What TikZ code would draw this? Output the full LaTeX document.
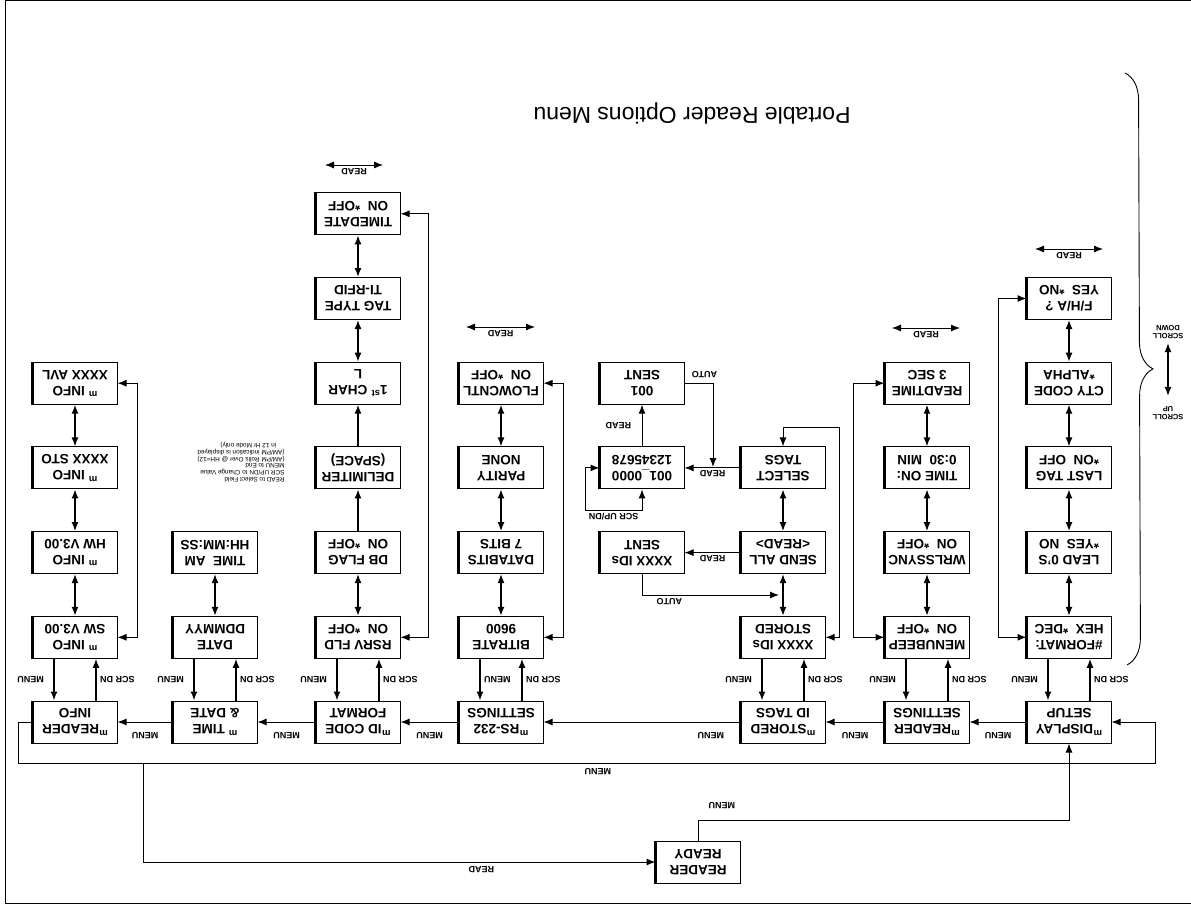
\documentclass[tikz,border=0pt]{standalone}
\usepackage{fontspec}
\setmainfont{Liberation Sans}
\usepackage{tikz}
\usetikzlibrary{arrows.meta}
\usetikzlibrary{decorations.pathreplacing}
\usetikzlibrary{positioning,calc}
\tikzstyle{menubox} = [draw, line width=1pt, minimum width=84pt, minimum height=42pt, inner sep=1pt, align=center, font=\fontsize{13.5}{16}\selectfont\bfseries, append after command={\pgfextra{\draw[line width=2.6pt] (\tikzlastnode.north east) -- (\tikzlastnode.south east);}}]
\tikzstyle{optbox} = [menubox]
\tikzstyle{lbl} = [font=\fontsize{9}{9.5}\selectfont\bfseries, inner sep=1.5pt]
\tikzstyle{scroll_lbl} = [lbl, font=\fontsize{7.5}{7.5}\selectfont\bfseries, align=center]
\tikzstyle{hint_text} = [font=\fontsize{6.4}{6.7}\selectfont, align=left, inner sep=0pt]
\tikzstyle{menu_title} = [font=\fontsize{23}{26}\selectfont]
\tikzstyle{arrow_step} = [->, draw, line width=1.4pt]
\tikzstyle{arrow_both} = [<->, draw, line width=1.4pt]
\tikzstyle{arrow_thin} = [->, draw, line width=1pt]
\tikzstyle{arrow_loop} = [<->, draw, line width=1pt]
\tikzstyle{arrow_read} = [<->, draw, line width=0.8pt]
\begin{document}
\begin{tikzpicture}[x=-1pt, y=1pt, rotate=180, transform shape, -, >={Latex[length=9pt,width=7pt]}, node distance=84.7pt]
      \useasboundingbox (0,0) rectangle (1191,907);
      \draw[line width=1pt] (1191,1) -- (5,1) -- (5,903) -- (1191,903);

      \node[menu_title] (title) at (692,113) {Portable Reader Options Menu};

      % Menu row
      \node[menubox] (ready) at (698,862) {READER\\READY};
      \node[menubox] (disp) at (1069,722) {\textsuperscript{m}DISPLAY\\SETUP};
      \node[menubox] (rset) [right of=disp, node distance=142pt] {\textsuperscript{m}READER\\SETTINGS};
      \node[menubox] (stored) [right of=rset, node distance=144pt] {\textsuperscript{m}STORED\\ID TAGS};
      \node[menubox] (rs) [right of=stored, node distance=282pt] {\textsuperscript{m}RS-232\\SETTINGS};
      \node[menubox] (idcode) [right of=rs, node distance=143pt] {\textsuperscript{m}ID CODE\\FORMAT};
      \node[menubox] (time) [right of=idcode, node distance=143pt] {\textsuperscript{m} TIME\\\& DATE};
      \node[menubox] (info) [right of=time, node distance=140pt] {\textsuperscript{m}READER\\INFO};

      % Display setup
      \node[optbox] (format) [below of=disp] {\#FORMAT:\\HEX\ \ *DEC};
      \node[optbox] (lead) [below of=format] {LEAD 0'S\\*YES\ \ NO};
      \node[optbox] (lasttag) [below of=lead] {LAST TAG\\*ON\ \ OFF};
      \node[optbox] (cty) [below of=lasttag] {CTY CODE\\*ALPHA};
      \node[optbox] (fha) [below of=cty] {F/H/A ?\\YES\ \ *NO};

      % Reader settings
      \node[optbox] (beep) [below of=rset] {MENUBEEP\\ON\ \ *OFF};
      \node[optbox] (sync) [below of=beep] {WRLSSYNC\\ON\ \ *OFF};
      \node[optbox] (timeon) [below of=sync] {TIME ON:\\0:30\ \ MIN};
      \node[optbox] (readtime) [below of=timeon] {READTIME\\3 SEC};

      % Stored tags
      \node[optbox] (idstored) [below of=stored] {XXXX IDs\\STORED};
      \node[optbox] (sendall) [below of=idstored] {SEND ALL\\<READ>};
      \node[optbox] (select) [below of=sendall] {SELECT\\TAGS};
      \node[optbox] (idsent) [right of=sendall, node distance=141pt] {XXXX IDs\\SENT};
      \node[optbox] (code) [below of=idsent] {001\_0000\\12345678};
      \node[optbox] (sent) [below of=code] {001\\SENT};

      % RS-232
      \node[optbox] (bitrate) [below of=rs] {BITRATE\\9600};
      \node[optbox] (databits) [below of=bitrate] {DATABITS\\7 BITS};
      \node[optbox] (parity) [below of=databits] {PARITY\\NONE};
      \node[optbox] (flowcntl) [below of=parity] {FLOWCNTL\\ON\ \ *OFF};

      % ID code format
      \node[optbox] (rsrv) [below of=idcode] {RSRV FLD\\ON\ \ *OFF};
      \node[optbox] (dbflag) [below of=rsrv] {DB FLAG\\ON\ \ *OFF};
      \node[optbox] (delim) [below of=dbflag] {DELIMITER\\(SPACE)};
      \node[optbox] (firstchar) [below of=delim] {1\textsuperscript{st} CHAR\\L};
      \node[optbox] (tagtype) [below of=firstchar] {TAG TYPE\\TI-RFID};
      \node[optbox] (timedate) [below of=tagtype] {TIMEDATE\\ON\ \ *OFF};

      % Time and date
      \node[optbox] (date) [below of=time] {DATE\\DDMMYY};
      \node[optbox] (tam) [below of=date] {TIME\ \ AM\\HH:MM:SS};
      \node[hint_text] (hint) at (241,462) {READ to Select Field\\SCR UP/DN to Change Value\\MENU to End\\(AM/PM Rolls Over @ HH=12)\\(AM/PM indication is displayed\\\hspace*{1.3em}in 12 Hr Mode only)};

      % Reader info
      \node[optbox] (sw) [below of=info] {\textsuperscript{m} INFO\\SW V3.00};
      \node[optbox] (hw) [below of=sw] {\textsuperscript{m} INFO\\HW V3.00};
      \node[optbox] (sto) [below of=hw] {\textsuperscript{m} INFO\\XXXX STO};
      \node[optbox] (avl) [below of=sto] {\textsuperscript{m} INFO\\XXXX AVL};

      % Menu arrows
      \path[arrow_thin] (disp) -- node[lbl, above=8pt] {MENU} (rset);
      \path[arrow_thin] (rset) -- node[lbl, above=8pt] {MENU} (stored);
      \path[arrow_thin] (stored) -- node[lbl, pos=0.15, above=8pt] {MENU} (rs);
      \path[arrow_thin] (rs) -- node[lbl, above=8pt] {MENU} (idcode);
      \path[arrow_thin] (idcode) -- node[lbl, above=8pt] {MENU} (time);
      \path[arrow_thin] (time) -- node[lbl, above=8pt] {MENU} (info);

      % Menu and scroll down arrows
      \path[arrow_step] ($(format.north)+(-21,0)$) -- node[lbl, right=8pt] {MENU} ($(disp.south)+(-21,0)$);
      \path[arrow_step] ($(disp.south)+(21,0)$) -- node[lbl, left=2pt] {SCR DN} ($(format.north)+(21,0)$);
      \path[arrow_step] ($(beep.north)+(-21,0)$) -- node[lbl, right=8pt] {MENU} ($(rset.south)+(-21,0)$);
      \path[arrow_step] ($(rset.south)+(21,0)$) -- node[lbl, left=2pt] {SCR DN} ($(beep.north)+(21,0)$);
      \path[arrow_step] ($(idstored.north)+(-21,0)$) -- node[lbl, right=8pt] {MENU} ($(stored.south)+(-21,0)$);
      \path[arrow_step] ($(stored.south)+(21,0)$) -- node[lbl, left=2pt] {SCR DN} ($(idstored.north)+(21,0)$);
      \path[arrow_step] ($(bitrate.north)+(-21,0)$) -- node[lbl, left=2pt] {MENU} ($(rs.south)+(-21,0)$);
      \path[arrow_step] ($(rs.south)+(21,0)$) -- node[lbl, left=2pt] {SCR DN} ($(bitrate.north)+(21,0)$);
      \path[arrow_step] ($(rsrv.north)+(-21,0)$) -- node[lbl, right=8pt] {MENU} ($(idcode.south)+(-21,0)$);
      \path[arrow_step] ($(idcode.south)+(21,0)$) -- node[lbl, left=2pt] {SCR DN} ($(rsrv.north)+(21,0)$);
      \path[arrow_step] ($(date.north)+(-21,0)$) -- node[lbl, right=8pt] {MENU} ($(time.south)+(-21,0)$);
      \path[arrow_step] ($(time.south)+(21,0)$) -- node[lbl, left=2pt] {SCR DN} ($(date.north)+(21,0)$);
      \path[arrow_step] ($(sw.north)+(-21,0)$) -- node[lbl, right=8pt] {MENU} ($(info.south)+(-21,0)$);
      \path[arrow_step] ($(info.south)+(21,0)$) -- node[lbl, left=2pt] {SCR DN} ($(sw.north)+(21,0)$);

      % Option arrows
      \path[arrow_both] (format) -- (lead);
      \path[arrow_both] (lead) -- (lasttag);
      \path[arrow_both] (lasttag) -- (cty);
      \path[arrow_both] (cty) -- (fha);
      \path[arrow_both] (beep) -- (sync);
      \path[arrow_both] (sync) -- (timeon);
      \path[arrow_both] (timeon) -- (readtime);
      \path[arrow_both] (idstored) -- (sendall);
      \path[arrow_both] (sendall) -- (select);
      \path[arrow_both] (bitrate) -- (databits);
      \path[arrow_both] (databits) -- (parity);
      \path[arrow_both] (parity) -- (flowcntl);
      \path[arrow_both] (rsrv) -- (dbflag);
      \path[arrow_step] (dbflag) -- (delim);
      \path[arrow_step] (delim) -- (firstchar);
      \path[arrow_both] (firstchar) -- (tagtype);
      \path[arrow_both] (tagtype) -- (timedate);
      \path[arrow_both] (date) -- (tam);
      \path[arrow_both] (sw) -- (hw);
      \path[arrow_both] (hw) -- (sto);
      \path[arrow_both] (sto) -- (avl);

      % Wrap arrows
      \coordinate (disp_wrap) at (998,0);
      \coordinate (rset_wrap) at (853,0);
      \coordinate (stored_wrap) at (839,427);
      \coordinate (rs_wrap) at (563,0);
      \coordinate (id_wrap) at (428,0);
      \coordinate (info_wrap) at (137,0);
      \path[arrow_loop] (format.east) -- (format.east -| disp_wrap) |- (fha.east);
      \path[arrow_loop] (beep.east) -- (beep.east -| rset_wrap) |- (readtime.east);
      \path[arrow_loop] (idstored.west) -| (stored_wrap) -| (select.south);
      \path[arrow_loop] (bitrate.west) -- (bitrate.west -| rs_wrap) |- (flowcntl.west);
      \path[arrow_loop] (rsrv.west) -- (rsrv.west -| id_wrap) |- (timedate.west);
      \path[arrow_loop] (sw.west) -- (sw.west -| info_wrap) |- (avl.west);

      % Sending tags
      \coordinate (auto_end) at (779,595);
      \coordinate (auto_tip) at (713,467);
      \coordinate (scr_wrap) at (585,510);
      \path[arrow_thin] (sendall) -- node[lbl, above=1pt] {READ} (idsent);
      \path[arrow_thin] (idsent.north) |- node[lbl, pos=0.6, above=1pt] {AUTO} (auto_end);
      \path[arrow_thin] (select) -- node[lbl, above=1pt] {READ} (code);
      \path[arrow_thin] (code) -- node[lbl, right=9pt] {READ} (sent);
      \path[arrow_thin] (sent.west) -| node[lbl, pos=0.35, below=3pt] {AUTO} (auto_tip);
      \path[arrow_loop] (code.north) |- node[lbl, pos=0.75, above=1pt] {SCR UP/DN} (scr_wrap) |- (code.east);

      % Reader ready arrows
      \coordinate (menu_left) at (18,763);
      \coordinate (menu_right) at (1155,763);
      \coordinate (read_join) at (143,763);
      \coordinate (ready_turn) at (0,820);
      \path[arrow_thin] (info.east) -| (menu_left) -- node[lbl, pos=0.51, above=3.5pt] {MENU} (menu_right) |- (disp.west);
      \path[arrow_thin] (read_join) |- node[lbl, pos=0.83, above=2.5pt] {READ} (ready.east);
      \path[arrow_thin] (ready.south) -- (ready.south |- ready_turn) -| node[lbl, pos=0.032, below=9pt] {MENU} (disp.north);

      % Read arrows
      \coordinate (disp_read_a) at (1035,249);
      \coordinate (disp_read_b) at (1103,249);
      \coordinate (rset_read_a) at (892,328);
      \coordinate (rset_read_b) at (960,328);
      \coordinate (rs_read_a) at (466,327);
      \coordinate (rs_read_b) at (535,327);
      \coordinate (id_read_a) at (325,165);
      \coordinate (id_read_b) at (383,165);
      \path[arrow_read] (disp_read_a) -- node[lbl, above=1.5pt] {READ} (disp_read_b);
      \path[arrow_read] (rset_read_a) -- node[lbl, above=1.5pt] {READ} (rset_read_b);
      \path[arrow_read] (rs_read_a) -- node[lbl, above=1.5pt] {READ} (rs_read_b);
      \path[arrow_read] (id_read_a) -- node[lbl, above=1.5pt] {READ} (id_read_b);

      % Scroll
      \coordinate (brace_top) at (1125,73);
      \coordinate (brace_bot) at (1127,665);
      \path[draw, line width=0.9pt, decorate, decoration={brace, amplitude=27pt}] (brace_top) -- (brace_bot);
      \node[scroll_lbl] (scroll_down) at (1168,332) {SCROLL\\DOWN};
      \node[scroll_lbl] (scroll_up) at (1168,413) {SCROLL\\UP};
      \path[arrow_both, shorten <=3pt, shorten >=9pt] (scroll_down) -- (scroll_up);

    \end{tikzpicture}
\end{document}
